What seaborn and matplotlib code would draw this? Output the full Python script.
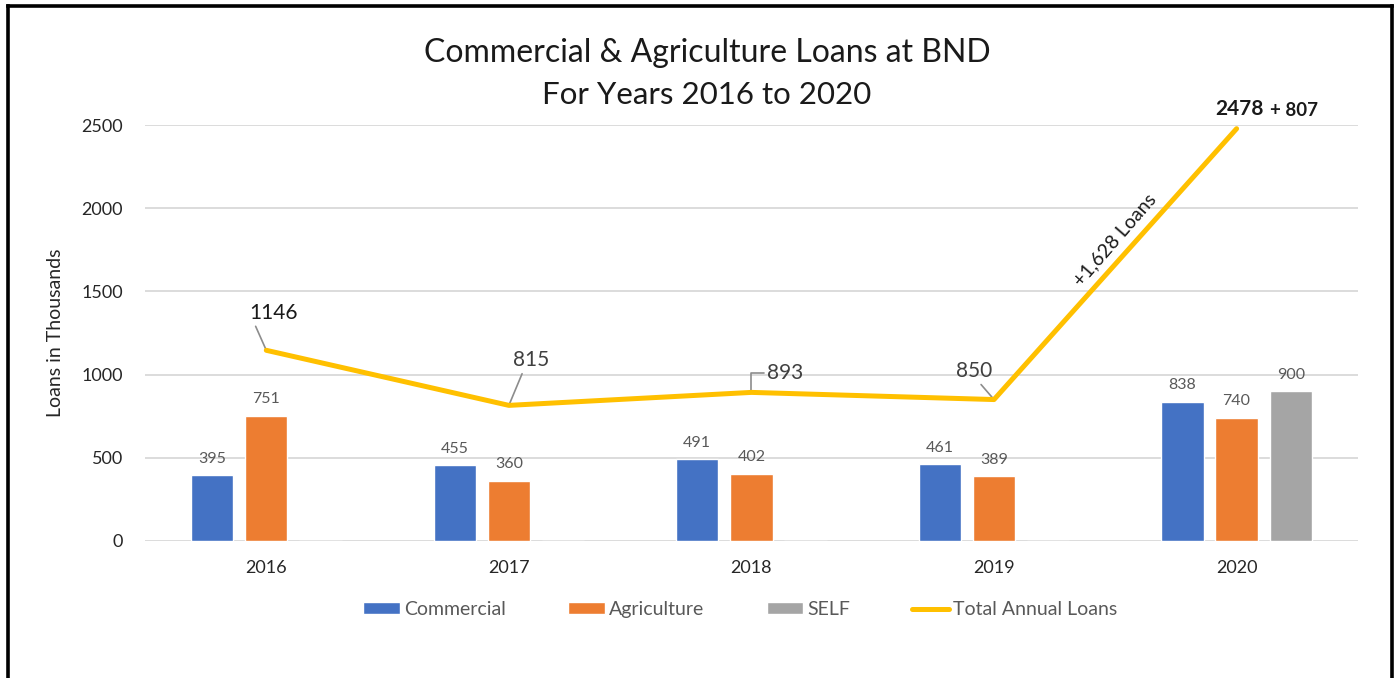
import numpy as np
import pandas as pd
import matplotlib.pyplot as plt
import seaborn as sns
from matplotlib.lines import Line2D
from matplotlib.patches import Patch

years = ['2016', '2017', '2018', '2019', '2020']
commercial = [395, 455, 491, 461, 838]
agriculture = [751, 360, 402, 389, 740]
self_loans = [0, 0, 0, 0, 900]
total_loans = [1146, 815, 893, 850, 2478]
series_names = ['Commercial', 'Agriculture', 'SELF']
series_colors = ['#4472C4', '#ED7D31', '#A5A5A5']
line_name = 'Total Annual Loans'
line_color = '#FFC000'

df = pd.DataFrame({
    'Year': years * 3,
    'Series': [n for n in series_names for _ in years],
    'Loans': commercial + agriculture + self_loans,
})

sns.set_theme(style='white')
plt.rcParams['font.family'] = ['Lato', 'DejaVu Sans']

fig = plt.figure(figsize=(13.97, 6.78), dpi=100)
ax = fig.add_axes([0.1038, 0.2021, 0.8682, 0.6135])

sns.barplot(data=df, x='Year', y='Loans', hue='Series', order=years,
            hue_order=series_names, palette=series_colors, width=0.67,
            gap=0.22, saturation=1, legend=False, ax=ax)

# value labels on the bars, leaving out the empty SELF bars...
for cont, vals in zip(ax.containers, [commercial, agriculture, self_loans]):
    labels = [str(v) if v > 0 else '' for v in vals]
    ax.bar_label(cont, labels=labels, padding=7, fontsize=11.5, color='#595959')

# total annual loans line...
pos = np.arange(len(years))
sns.lineplot(x=pos, y=total_loans, color=line_color, linewidth=3.6, ax=ax,
             solid_capstyle='round', zorder=4)

ax.set_ylim(0, 2500)
ax.set_xlim(-0.5, 4.5)
ax.set_yticks(range(0, 2501, 500))
ax.yaxis.grid(True, color='#D9D9D9', linewidth=1.3)
ax.set_axisbelow(True)
for s in ax.spines.values():
    s.set_visible(False)
ax.tick_params(axis='both', length=0, labelsize=13, colors='#262626')
ax.tick_params(axis='x', pad=14)
ax.tick_params(axis='y', pad=16)
ax.set_xlabel('')
ax.set_ylabel('Loans in Thousands', fontsize=14, color='#262626', labelpad=12)

# line value labels with small leader lines...
leader = dict(arrowstyle='-', color='#8C8C8C', lw=1.2, shrinkA=0, shrinkB=0)
ax.annotate('1146', xy=(0, total_loans[0]), xytext=(0.03, 1370), fontsize=15,
            color='#1a1a1a', ha='center', va='center',
            arrowprops=dict(leader, relpos=(0.1, 0)))
ax.annotate('815', xy=(1, total_loans[1]), xytext=(1.09, 1085), fontsize=15,
            color='#404040', ha='center', va='center',
            arrowprops=dict(leader, relpos=(0.3, 0)))
ax.annotate('893', xy=(2, total_loans[2]), xytext=(2.14, 1010), fontsize=15,
            color='#404040', ha='center', va='center',
            arrowprops=dict(leader, connectionstyle='angle,angleA=0,angleB=90,rad=0',
                            relpos=(0, 0.5)))
ax.annotate('850', xy=(3, total_loans[3]), xytext=(2.92, 1020), fontsize=15,
            color='#404040', ha='center', va='center',
            arrowprops=dict(leader, relpos=(0.6, 0)))
ax.text(4.01, 2595, '2478', fontsize=15, fontweight='bold', color='#1a1a1a',
        ha='center', va='center')
ax.text(4.235, 2590, '+ 807', fontsize=13.5, fontweight='bold', color='#1a1a1a',
        ha='center', va='center')
ax.text(3.50, 1809, '+1,628 Loans', fontsize=14, color='#1a1a1a',
        ha='center', va='center', rotation=49, rotation_mode='anchor')

fig.text(0.506, 0.922, 'Commercial & Agriculture Loans at BND', fontsize=23,
         ha='center', va='center', color='#1a1a1a')
fig.text(0.506, 0.860, 'For Years 2016 to 2020', fontsize=22.5,
         ha='center', va='center', color='#1a1a1a')

handles = [Patch(facecolor=c, label=n) for n, c in zip(series_names, series_colors)]
handles.append(Line2D([0], [0], color=line_color, lw=3.6, label=line_name))
fig.legend(handles=handles, loc='center', bbox_to_anchor=(0.53, 0.101), ncol=4,
           frameon=False, fontsize=14, labelcolor='#595959', handlelength=1.9,
           handleheight=0.6, columnspacing=3.2, handletextpad=0.2)

# the black frame around the chart, open at the bottom...
frame = dict(color='black', lw=2.6, solid_capstyle='projecting')
fig.add_artist(Line2D([0.0057, 0.0057], [0.0, 0.9915], transform=fig.transFigure, **frame))
fig.add_artist(Line2D([0.0057, 0.9965], [0.9915, 0.9915], transform=fig.transFigure, **frame))
fig.add_artist(Line2D([0.9965, 0.9965], [0.0, 0.9915], transform=fig.transFigure, **frame))

fig.savefig('out.png', dpi=100, facecolor='white')
